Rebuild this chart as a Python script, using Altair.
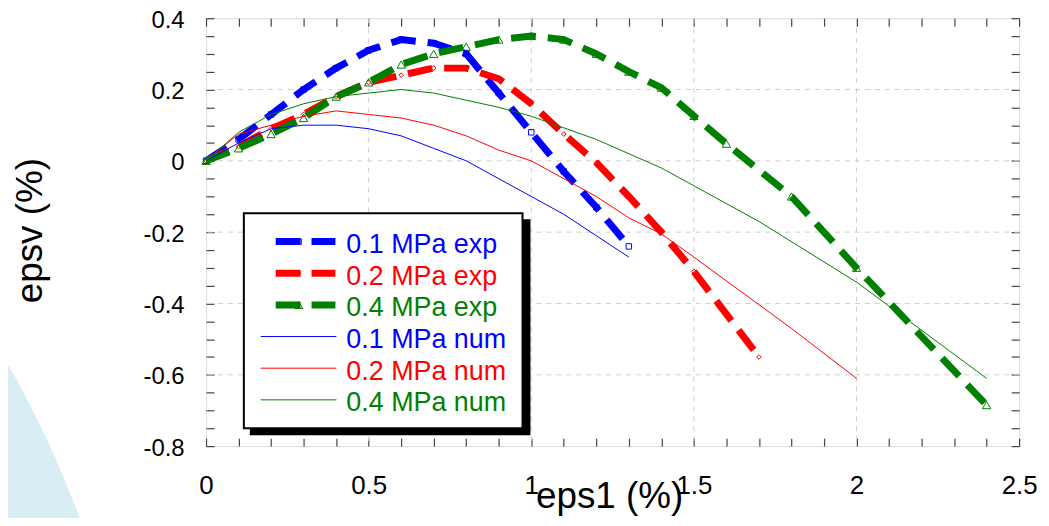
import altair as alt
import pandas as pd

# ---------------- data ----------------
blue_exp_x = [0, 0.1, 0.2, 0.3, 0.4, 0.5, 0.6, 0.7, 0.8, 0.9, 1.0, 1.1, 1.2, 1.3]
blue_exp_y = [0, 0.06, 0.13, 0.20, 0.26, 0.31, 0.34, 0.33, 0.30, 0.19, 0.08, -0.03, -0.13, -0.24]

red_exp_x = [0, 0.1, 0.2, 0.3, 0.4, 0.5, 0.6, 0.7, 0.8, 0.9, 1.0, 1.1, 1.2, 1.3, 1.4, 1.5, 1.6, 1.7]
red_exp_y = [0, 0.04, 0.09, 0.13, 0.18, 0.22, 0.24, 0.26, 0.26, 0.23, 0.16, 0.075, -0.005, -0.10, -0.20, -0.31, -0.43, -0.55]

green_exp_x = [0, 0.1, 0.2, 0.3, 0.4, 0.5, 0.6, 0.7, 0.8, 0.9, 1.0, 1.1, 1.2, 1.3, 1.4, 1.5, 1.6, 1.8, 2.0, 2.4]
green_exp_y = [0, 0.035, 0.075, 0.12, 0.18, 0.22, 0.27, 0.30, 0.32, 0.34, 0.35, 0.34, 0.30, 0.25, 0.205, 0.126, 0.048, -0.10, -0.30, -0.685]

blue_num_x = [0, 0.1, 0.2, 0.3, 0.4, 0.5, 0.6, 0.7, 0.8, 0.9, 1.0, 1.1, 1.2, 1.3]
blue_num_y = [0, 0.05, 0.09, 0.10, 0.10, 0.09, 0.07, 0.035, 0.0, -0.05, -0.10, -0.15, -0.21, -0.27]

red_num_x = [0, 0.1, 0.2, 0.3, 0.4, 0.5, 0.6, 0.7, 0.8, 0.9, 1.0, 1.1, 1.2, 1.3, 1.4, 1.5, 1.8, 2.0]
red_num_y = [0, 0.075, 0.10, 0.125, 0.14, 0.13, 0.12, 0.10, 0.07, 0.03, 0.0, -0.05, -0.10, -0.16, -0.205, -0.27, -0.47, -0.61]

green_num_x = [0, 0.1, 0.2, 0.3, 0.4, 0.5, 0.6, 0.7, 0.8, 0.9, 1.0, 1.2, 1.4, 1.5, 1.7, 2.0, 2.4]
green_num_y = [0, 0.08, 0.13, 0.16, 0.18, 0.19, 0.20, 0.19, 0.17, 0.15, 0.125, 0.06, -0.02, -0.07, -0.17, -0.34, -0.61]

series_labels = ["0.1 MPa exp", "0.2 MPa exp", "0.4 MPa exp",
                 "0.1 MPa num", "0.2 MPa num", "0.4 MPa num"]
series_colors = ["#0000ff", "#ff0000", "#008000", "#0000ff", "#ff0000", "#008000"]
exp_shapes = ["square", "diamond", "triangle-up"]
exp_sizes = [30, 22, 70]

x_ticks = [round(0.1 * i, 1) for i in range(26)]
y_ticks = [round(-0.8 + 0.05 * i, 2) for i in range(25)]
grid_x = [0.5, 1.0, 1.5, 2.0]
grid_y = [-0.6, -0.4, -0.2, 0.0, 0.2]

FONT = "Liberation Sans"
W, H = 817, 430

x_scale = alt.Scale(domain=[0, 2.5], nice=False, zero=False)
y_scale = alt.Scale(domain=[-0.8, 0.4], nice=False, zero=False)

TICK_COLOR = "#444444"

x_axis = alt.Axis(
    values=x_ticks,
    labelExpr="abs(datum.value*2 - round(datum.value*2)) < 0.001 ? toString(datum.value) : ''",
    orient="bottom", offset=-8, tickSize=8, tickColor=TICK_COLOR, tickWidth=1.2,
    domain=False, grid=False,
    labelFont=FONT, labelFontSize=26, labelColor="black", labelPadding=48,
    labelBaseline="alphabetic", labelFlush=False, labelOverlap=False,
    title="eps1 (%)", titleFont=FONT, titleFontSize=37, titleFontWeight="normal",
    titleColor="black", titleX=405, titleY=70, titleBaseline="alphabetic", titleAlign="center",
)
y_axis = alt.Axis(
    values=y_ticks,
    labelExpr="abs(datum.value*5 - round(datum.value*5)) < 0.001 ? toString(datum.value) : ''",
    orient="left", offset=-8, tickSize=8, tickColor=TICK_COLOR, tickWidth=1.2,
    domain=False, grid=False,
    labelFont=FONT, labelFontSize=24, labelColor="black", labelPadding=22, labelOffset=2,
    labelFlush=False, labelOverlap=False,
    title="epsv (%)", titleFont=FONT, titleFontSize=37, titleFontWeight="normal",
    titleColor="black", titleAngle=270, titleX=-173, titleY=213,
    titleBaseline="alphabetic", titleAlign="center",
)

X = alt.X("x:Q", scale=x_scale, axis=x_axis)
Y = alt.Y("y:Q", scale=y_scale, axis=y_axis)


def df(xs, ys):
    return pd.DataFrame({"x": xs, "y": ys, "i": list(range(len(xs)))})


layers = []

# decorative light-blue background shape (slide background)
layers.append(
    alt.Chart(pd.DataFrame({"a": [0]})).mark_arc(
        color="#d8eef4", theta=0, theta2=6.2832, radius=1016
    ).encode(x=alt.value(-1081), y=alt.value(852))
)

# grid
layers.append(
    alt.Chart(pd.DataFrame({"x": grid_x})).mark_rule(
        color="#cfcfcf", strokeDash=[5, 5], strokeWidth=1
    ).encode(x=X)
)
layers.append(
    alt.Chart(pd.DataFrame({"y": grid_y})).mark_rule(
        color="#cfcfcf", strokeDash=[5, 5], strokeWidth=1
    ).encode(y=Y)
)

exp_data = [(blue_exp_x, blue_exp_y), (red_exp_x, red_exp_y), (green_exp_x, green_exp_y)]
num_data = [(blue_num_x, blue_num_y), (red_num_x, red_num_y), (green_num_x, green_num_y)]

# experimental markers (open, under the dashes)
for k, (xs, ys) in enumerate(exp_data):
    layers.append(
        alt.Chart(df(xs, ys)).mark_point(
            shape=exp_shapes[k], size=exp_sizes[k], filled=False,
            stroke=series_colors[k], strokeWidth=1, opacity=1
        ).encode(x=X, y=Y)
    )

# experimental thick dashed lines
for k, (xs, ys) in enumerate(exp_data):
    layers.append(
        alt.Chart(df(xs, ys)).mark_line(
            color=series_colors[k], strokeWidth=7, strokeDash=[25, 12], strokeCap="butt"
        ).encode(x=X, y=Y, order="i:Q")
    )

# numerical thin lines
for k, (xs, ys) in enumerate(num_data):
    layers.append(
        alt.Chart(df(xs, ys)).mark_line(
            color=series_colors[k + 3], strokeWidth=1
        ).encode(x=X, y=Y, order="i:Q")
    )

# ---------------- legend box ----------------
one = pd.DataFrame({"a": [0]})
layers.append(
    alt.Chart(one).mark_rect(color="black").encode(
        x=alt.value(44), x2=alt.value(326), y=alt.value(202), y2=alt.value(419))
)
layers.append(
    alt.Chart(one).mark_rect(fill="white", stroke="black", strokeWidth=2).encode(
        x=alt.value(38), x2=alt.value(318), y=alt.value(196), y2=alt.value(412))
)
row_y0, row_step = 224.5, 31.8
for k, lab in enumerate(series_labels):
    ry = row_y0 + k * row_step
    if k < 3:
        layers.append(
            alt.Chart(one).mark_rule(
                color=series_colors[k], strokeWidth=7, strokeDash=[25, 11], strokeCap="butt"
            ).encode(x=alt.value(70), x2=alt.value(130), y=alt.value(ry))
        )
        layers.append(
            alt.Chart(one).mark_point(
                shape=exp_shapes[k], size=exp_sizes[k], filled=False,
                stroke=series_colors[k], strokeWidth=1, opacity=1
            ).encode(x=alt.value(93), y=alt.value(ry))
        )
    else:
        layers.append(
            alt.Chart(one).mark_rule(color=series_colors[k], strokeWidth=1).encode(
                x=alt.value(55), x2=alt.value(131), y=alt.value(ry))
        )
    layers.append(
        alt.Chart(one).mark_text(
            text=lab, font=FONT, fontSize=27, color=series_colors[k],
            align="left", baseline="alphabetic"
        ).encode(x=alt.value(141), y=alt.value(ry + 11.5))
    )

main = alt.layer(*layers)

# frame layer: ticks on top and right edges
x_top = alt.Axis(values=x_ticks, orient="top", offset=-8, tickSize=8, tickColor=TICK_COLOR,
                 tickWidth=1.2, labels=False, domain=False, grid=False, title="")
y_right = alt.Axis(values=y_ticks, orient="right", offset=-8, tickSize=8, tickColor=TICK_COLOR,
                   tickWidth=1.2, labels=False, domain=False, grid=False, title="")
frame = alt.Chart(pd.DataFrame({"x": [0.0], "y": [0.0]})).mark_point(opacity=0).encode(
    x=alt.X("x:Q", scale=x_scale, axis=x_top),
    y=alt.Y("y:Q", scale=y_scale, axis=y_right),
)

chart = alt.layer(main, frame).resolve_scale(x="independent", y="independent").properties(
    width=W, height=H,
    padding={"left": 199, "top": 9, "right": 22, "bottom": 71},
    autosize=alt.AutoSizeParams(type="none"),
).configure_view(stroke="#333333", strokeWidth=1.5).configure(background="white")

chart.save("out.html", embed_options={"renderer": "svg", "actions": False})
